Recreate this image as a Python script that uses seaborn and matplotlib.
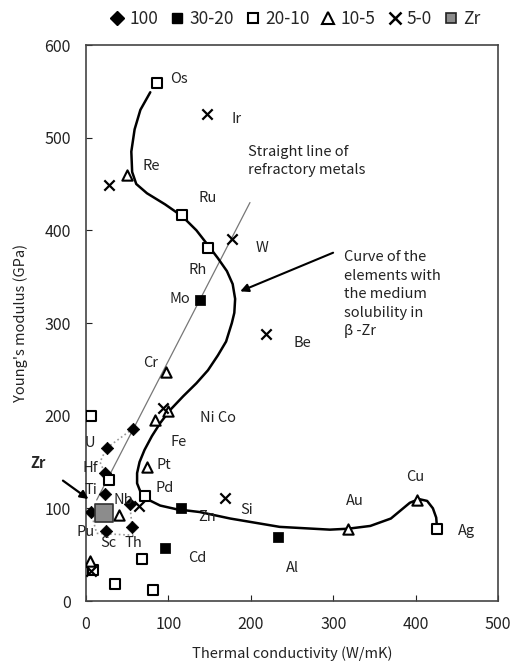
import matplotlib
matplotlib.use('Agg')
import matplotlib.pyplot as plt
from matplotlib.lines import Line2D
import numpy as np
import pandas as pd
import seaborn as sns

# solubility groups (at.%) : thermal conductivity (W/mK), Young's modulus (GPa)
full_x = [25, 57, 23, 23, 6, 53, 24, 56]          # U, Ta, Hf, Ti, Pu, Nb, Sc, Th
full_y = [165, 186, 138, 115, 96, 105, 76, 80]

s30_x = [138, 115, 96, 233]                        # Mo, Zn, Cd, Al
s30_y = [325, 100, 57, 69]

s20_x = [86, 116, 148, 72, 426, 6, 28, 68, 35, 81, 8]   # Os, Ru, Rh, Pd, Ag, ...
s20_y = [559, 417, 381, 113, 78, 200, 131, 45, 18, 12, 33]

s10_x = [50, 97, 100, 84, 74, 40, 318, 402, 5]    # Re, Cr, Ni, Co, Pt, ., Au, Cu, .
s10_y = [460, 247, 205, 195, 145, 93, 78, 109, 43]

s5_x = [147, 177, 219, 28, 93, 64, 169, 6]         # Ir, W, Be, ., ., ., Si, .
s5_y = [525, 391, 288, 449, 208, 103, 111, 32]

zr_x = [22]
zr_y = [95]

labels = ['Os', 'Ir', 'Re', 'Ru', 'W', 'Rh', 'Mo', 'Be', 'Cr', 'Ni Co', 'Fe', 'Pt', 'Pd',
          'Zn', 'Si', 'Cd', 'Al', 'Au', 'Cu', 'Ag', 'U', 'Hf', 'Ti', 'Pu', 'Sc', 'Th', 'Nb']
label_x = [113, 183, 79, 148, 214, 135, 114, 263, 78, 160, 112, 94, 96,
           147, 195, 135, 251, 326, 400, 462, 5, 5, 6, 0, 27, 57, 45]
label_y = [563, 520, 469, 435, 381, 357, 326, 278, 257, 198, 172, 147, 122,
           91, 98, 46, 36, 108, 134, 75, 171, 144, 120, 75, 63, 63, 109]

# curve of the elements with medium solubility in beta-Zr
curve_x = [78, 66, 59, 55, 56, 61, 74, 96, 117, 134, 148, 160, 171, 178, 181, 180, 177,
           170, 160, 148, 134, 118, 102, 90, 80, 71, 65, 62, 62, 66, 74, 90, 110, 138,
           175, 235, 296, 318, 345, 370, 393, 404, 414, 421, 425, 426]
curve_y = [549, 530, 509, 485, 463, 450, 440, 428, 415, 400, 384, 370, 356, 342, 326, 311, 300,
           280, 265, 249, 235, 221, 206, 192, 178, 163, 150, 138, 127, 118, 110, 103, 99, 96,
           89, 80, 77, 78, 81, 89, 106, 110, 108, 100, 90, 79]

# straight line of refractory metals
ref_x = [13, 199]
ref_y = [109, 430]

# dotted boundary of the complete solubility group
dot1_x = [57, 25, 17, 23]
dot1_y = [186, 165, 150, 138]
dot2_x = [6, 13, 57, 56, 53]
dot2_y = [96, 73, 71, 80, 105]

sns.set_theme(style='white')
plt.rcParams['font.family'] = ['Noto Sans CJK JP', 'DejaVu Sans']

fig = plt.figure(figsize=(5.17, 6.69), dpi=100)
ax = fig.add_axes([86 / 517, 68 / 669, 412 / 517, 556 / 669])

line_kw = dict(ax=ax, sort=False, estimator=None, errorbar=None)
sns.lineplot(x=ref_x, y=ref_y, color='#777777', lw=0.9, **line_kw)
sns.lineplot(x=dot1_x, y=dot1_y, color='#999999', lw=1.2, ls=':', **line_kw)
sns.lineplot(x=dot2_x, y=dot2_y, color='#999999', lw=1.2, ls=':', **line_kw)
sns.lineplot(x=curve_x, y=curve_y, color='black', lw=1.8, **line_kw)

sns.scatterplot(x=full_x, y=full_y, ax=ax, marker='D', s=40, color='black', edgecolor='black', zorder=5)
sns.scatterplot(x=s30_x, y=s30_y, ax=ax, marker='s', s=45, color='black', edgecolor='black', zorder=5)
sns.scatterplot(x=s20_x, y=s20_y, ax=ax, marker='s', s=45, color='white', edgecolor='black',
                linewidth=1.5, zorder=5)
sns.scatterplot(x=s10_x, y=s10_y, ax=ax, marker='^', s=55, color='white', edgecolor='black',
                linewidth=1.5, zorder=5)
sns.scatterplot(x=s5_x, y=s5_y, ax=ax, marker='x', s=55, color='black', linewidth=1.6, zorder=5)
sns.scatterplot(x=zr_x, y=zr_y, ax=ax, marker='s', s=150, color='#8c8c8c', edgecolor='#333333',
                linewidth=1.2, zorder=6)

for t, x, y in zip(labels, label_x, label_y):
    ax.text(x, y, t, fontsize=10.5, ha='center', va='center', color='#222222', zorder=7)

ax.text(197, 475, 'Straight line of\nrefractory metals', fontsize=10.5, ha='left', va='center',
        linespacing=1.35, color='#222222')
ax.text(313, 331, 'Curve of the\nelements with\nthe medium\nsolubility in\n\u03b2 -Zr', fontsize=10.5,
        ha='left', va='center', linespacing=1.4, color='#222222')
ax.annotate('', xy=(184, 333), xytext=(303, 377),
            arrowprops=dict(arrowstyle='-|>', color='black', lw=1.5, mutation_scale=12))
ax.annotate('Zr', xy=(3, 110), xytext=(-67, 149), fontsize=10.5, fontweight='bold',
            ha='left', va='center', annotation_clip=False,
            arrowprops=dict(arrowstyle='-|>', color='black', lw=1.6, mutation_scale=12,
                            shrinkA=12, shrinkB=0))

ax.set_xlim(0, 500)
ax.set_ylim(0, 600)
ax.set_xticks(range(0, 501, 100))
ax.set_yticks(range(0, 601, 100))
ax.tick_params(direction='in', length=4, width=0.8, labelsize=11.5, colors='#222222', pad=11,
               left=True, bottom=True)
for sp in ax.spines.values():
    sp.set_color('#444444')
    sp.set_linewidth(1.2)
ax.set_xlabel('Thermal conductivity (W/mK)', fontsize=10.5, color='#222222', labelpad=9)
ax.set_ylabel("Young's modulus (GPa)", fontsize=10.5, color='#222222', labelpad=12)

handles = [
    Line2D([], [], marker='D', ls='', color='black', markersize=7),
    Line2D([], [], marker='s', ls='', color='black', markersize=7),
    Line2D([], [], marker='s', ls='', markerfacecolor='white', markeredgecolor='black',
           markeredgewidth=1.5, markersize=7),
    Line2D([], [], marker='^', ls='', markerfacecolor='white', markeredgecolor='black',
           markeredgewidth=1.5, markersize=8),
    Line2D([], [], marker='x', ls='', color='black', markeredgewidth=1.8, markersize=8),
    Line2D([], [], marker='s', ls='', markerfacecolor='#8c8c8c', markeredgecolor='#222222',
           markeredgewidth=1.2, markersize=7),
]
fig.legend(handles, ['100', '30-20', '20-10', '10-5', '5-0', 'Zr'], loc='center',
           bbox_to_anchor=(0.571, 0.972), ncol=6, frameon=False, fontsize=12.5,
           handlelength=0.8, handletextpad=0.3, columnspacing=0.7)

fig.savefig('out.png', dpi=100)
